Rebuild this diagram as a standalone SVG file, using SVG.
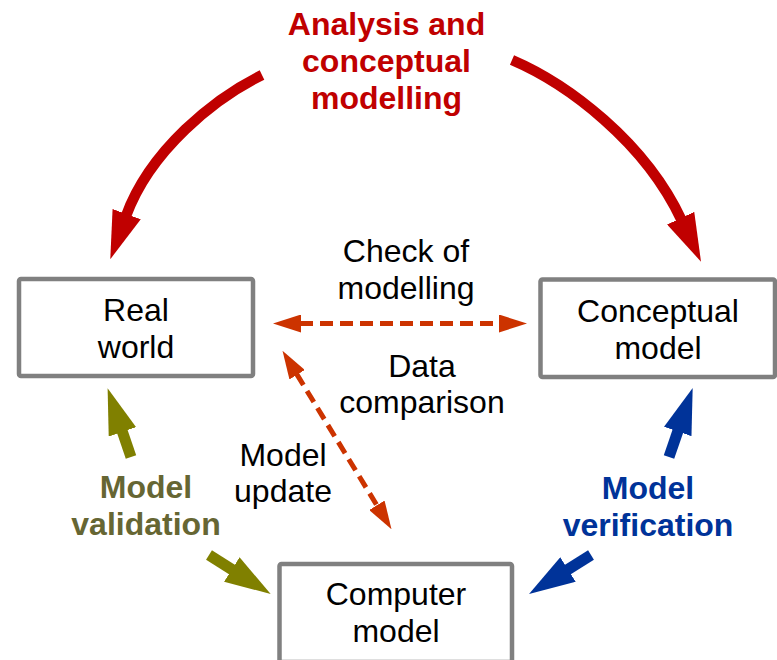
<svg xmlns="http://www.w3.org/2000/svg" width="777" height="660" viewBox="0 0 777 660">
  <style>
    .box { fill: #ffffff; stroke: #808080; stroke-width: 4.5; }
    .lbl { font-family: "Liberation Sans", Arial, sans-serif; font-size: 32px; text-anchor: middle; fill: #000000; }
    .bold { font-weight: bold; }
    .red { fill: #c00000; }
    .olive { fill: #666633; }
    .blue { fill: #003399; }
    .cycle-red { fill: none; stroke: #c00000; stroke-width: 10.5; }
    .olive-line { fill: none; stroke: #808000; stroke-width: 11; }
    .blue-line { fill: none; stroke: #003399; stroke-width: 11; }
    .dash { fill: none; stroke: #cc3300; stroke-width: 5; stroke-dasharray: 13 7; }
  </style>
  <defs>
    <marker id="headRed" markerUnits="userSpaceOnUse" viewBox="0 0 48 30" markerWidth="48" markerHeight="30" refX="2" refY="15" orient="auto">
      <path d="M0,0 L48,15 L0,30 Z" fill="#c00000"/>
    </marker>
    <marker id="headOlive" markerUnits="userSpaceOnUse" viewBox="0 0 46 29" markerWidth="46" markerHeight="29" refX="2" refY="14.5" orient="auto">
      <path d="M0,0 L46,14.5 L0,29 Z" fill="#808000"/>
    </marker>
    <marker id="headBlue" markerUnits="userSpaceOnUse" viewBox="0 0 46 29" markerWidth="46" markerHeight="29" refX="2" refY="14.5" orient="auto">
      <path d="M0,0 L46,14.5 L0,29 Z" fill="#003399"/>
    </marker>
    <marker id="headDash" markerUnits="userSpaceOnUse" viewBox="0 0 28 18" markerWidth="28" markerHeight="18" refX="1" refY="9" orient="auto-start-reverse">
      <path d="M0,0 L28,9 L0,18 Z" fill="#cc3300"/>
    </marker>
  </defs>

  <!-- connectors -->
  <g id="connectors">
    <path class="cycle-red" d="M262,75 C215,98 150,150 126,216" marker-end="url(#headRed)"/>
    <path class="cycle-red" d="M512,60 C568,84 645,142 681.5,220" marker-end="url(#headRed)"/>
    <path class="olive-line" d="M131,457 L121.8,430" marker-end="url(#headOlive)"/>
    <path class="olive-line" d="M209,555 L233.5,570.5" marker-end="url(#headOlive)"/>
    <path class="blue-line" d="M669,457 L678.4,429.6" marker-end="url(#headBlue)"/>
    <path class="blue-line" d="M591,555 L566.3,570.5" marker-end="url(#headBlue)"/>
    <path class="dash" d="M300,323.5 L500,323.5" marker-start="url(#headDash)" marker-end="url(#headDash)"/>
    <path class="dash" d="M296.6,373.9 L377.4,506.1" marker-start="url(#headDash)" marker-end="url(#headDash)"/>
  </g>

  <!-- nodes -->
  <g id="real-world">
    <rect class="box" x="19" y="279" width="234" height="97" rx="2"/>
    <text class="lbl" x="136" y="321">Real</text>
    <text class="lbl" x="136" y="358">world</text>
  </g>
  <g id="conceptual-model">
    <rect class="box" x="540.5" y="279.5" width="234.5" height="97.5" rx="2"/>
    <text class="lbl" x="658" y="322">Conceptual</text>
    <text class="lbl" x="658" y="358.5">model</text>
  </g>
  <g id="computer-model">
    <rect class="box" x="279.5" y="564" width="232.5" height="98" rx="2"/>
    <text class="lbl" x="396" y="605">Computer</text>
    <text class="lbl" x="396" y="642">model</text>
  </g>

  <!-- labels -->
  <g id="label-analysis">
    <text class="lbl bold red" x="386.5" y="35">Analysis and</text>
    <text class="lbl bold red" x="386.5" y="72">conceptual</text>
    <text class="lbl bold red" x="386.5" y="109">modelling</text>
  </g>
  <g id="label-check">
    <text class="lbl" x="406" y="262">Check of</text>
    <text class="lbl" x="406" y="299">modelling</text>
  </g>
  <g id="label-data">
    <text class="lbl" x="422" y="377">Data</text>
    <text class="lbl" x="422" y="413">comparison</text>
  </g>
  <g id="label-update">
    <text class="lbl" x="283" y="466">Model</text>
    <text class="lbl" x="283" y="502">update</text>
  </g>
  <g id="label-validation">
    <text class="lbl bold olive" x="146" y="498">Model</text>
    <text class="lbl bold olive" x="146" y="535">validation</text>
  </g>
  <g id="label-verification">
    <text class="lbl bold blue" x="648" y="499">Model</text>
    <text class="lbl bold blue" x="648" y="536">verification</text>
  </g>
</svg>
